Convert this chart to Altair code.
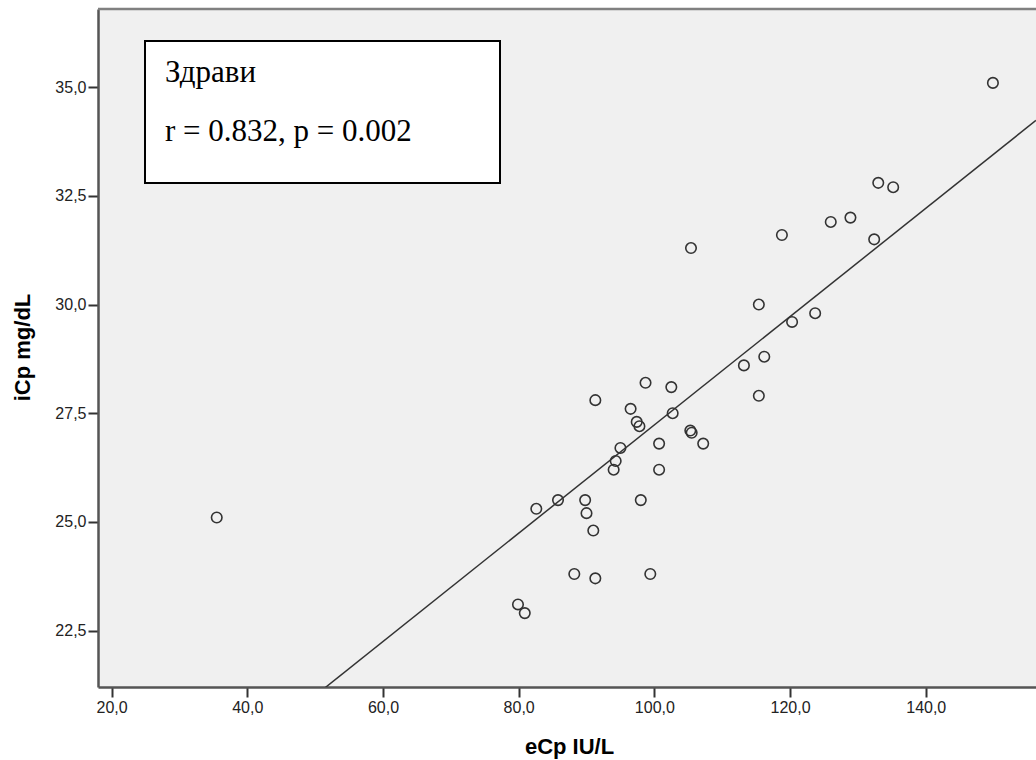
import altair as alt
import pandas as pd

# ---- data ----
ecp = [35.5, 149.9, 133.0, 135.2, 126.0, 128.9, 132.4, 118.8, 105.4, 115.4,
       120.3, 123.7, 113.2, 116.2, 115.4, 91.3, 98.7, 102.5, 96.5, 97.4,
       97.8, 102.7, 105.3, 105.5, 107.2, 100.7, 95.0, 94.3, 94.0, 100.7,
       85.8, 82.6, 89.8, 90.0, 98.0, 91.0, 88.2, 91.3, 99.4, 79.9, 80.9]
icp = [25.1, 35.1, 32.8, 32.7, 31.9, 32.0, 31.5, 31.6, 31.3, 30.0,
       29.6, 29.8, 28.6, 28.8, 27.9, 27.8, 28.2, 28.1, 27.6, 27.3,
       27.2, 27.5, 27.1, 27.05, 26.8, 26.8, 26.7, 26.4, 26.2, 26.2,
       25.5, 25.3, 25.5, 25.2, 25.5, 24.8, 23.8, 23.7, 23.8, 23.1, 22.9]

X_DOMAIN = [18.0, 156.25]
Y_DOMAIN = [21.2, 36.8]
X_TICKS = [20, 40, 60, 80, 100, 120, 140]
Y_TICKS = [22.5, 25.0, 27.5, 30.0, 32.5, 35.0]
FIT_INTERCEPT = 14.77
FIT_SLOPE = 0.1246
ANNOT_LINES = ["Здрави", "r = 0.832, p = 0.002"]
X_TITLE = "eCp IU/L"
Y_TITLE = "iCp mg/dL"

W, H = 938, 678

df = pd.DataFrame({"ecp": ecp, "icp": icp})
fit_df = pd.DataFrame({"ecp": X_DOMAIN,
                       "icp": [FIT_INTERCEPT + FIT_SLOPE * v for v in X_DOMAIN]})

label_expr = "replace(format(datum.value, '.1f'), '.', ',')"

x_enc = alt.X("ecp:Q",
              scale=alt.Scale(domain=X_DOMAIN, nice=False, zero=False),
              axis=alt.Axis(values=X_TICKS, labelExpr=label_expr, title=X_TITLE,
                            titleX=471, titleY=66, titleAlign="center",
                            titleBaseline="alphabetic"))
y_enc = alt.Y("icp:Q",
              scale=alt.Scale(domain=Y_DOMAIN, nice=False, zero=False),
              axis=alt.Axis(values=Y_TICKS, labelExpr=label_expr, title=Y_TITLE,
                            titleX=-76, titleY=338, titleAngle=270,
                            titleAlign="center", titleBaseline="middle"))

points = alt.Chart(df).mark_point(
    shape="circle", filled=False, size=110, strokeWidth=1.6,
    color="#333333", opacity=1
).encode(x=x_enc, y=y_enc)

fit = alt.Chart(fit_df).mark_line(
    clip=True, color="#333333", strokeWidth=1.5
).encode(x="ecp:Q", y="icp:Q")

top_border = alt.Chart(pd.DataFrame({"k": [0]})).mark_rule(
    color="#808080", strokeWidth=2.5
).encode(x=alt.value(0), x2=alt.value(W), y=alt.value(0))

box = alt.Chart(pd.DataFrame({"k": [0]})).mark_rect(
    fill="white", stroke="black", strokeWidth=2
).encode(x=alt.value(47), x2=alt.value(402), y=alt.value(32), y2=alt.value(174))

texts = []
for line, ypos in zip(ANNOT_LINES, [73, 132]):
    texts.append(
        alt.Chart(pd.DataFrame({"k": [0]})).mark_text(
            align="left", baseline="alphabetic", font="Liberation Serif",
            fontSize=31, color="black"
        ).encode(x=alt.value(67), y=alt.value(ypos), text=alt.value(line))
    )

chart = alt.layer(points, fit, top_border, box, *texts).properties(
    width=W, height=H,
    padding={"left": 98, "top": 9, "right": 0, "bottom": 73},
    autosize=alt.AutoSizeParams(type="none"),
    background="white",
).configure_view(
    fill="#f0f0f0", stroke=None
).configure_axis(
    grid=False,
    domainColor="#555555", domainWidth=2.5,
    tickColor="#333333", tickWidth=2, tickSize=10,
    labelFont="Liberation Sans", labelFontSize=16, labelColor="#222222",
    labelPadding=2,
    titleFont="Liberation Sans", titleFontSize=22, titleFontWeight="bold",
    titleColor="#000000",
)

chart.save("out.html", embed_options={"renderer": "svg", "actions": False})
